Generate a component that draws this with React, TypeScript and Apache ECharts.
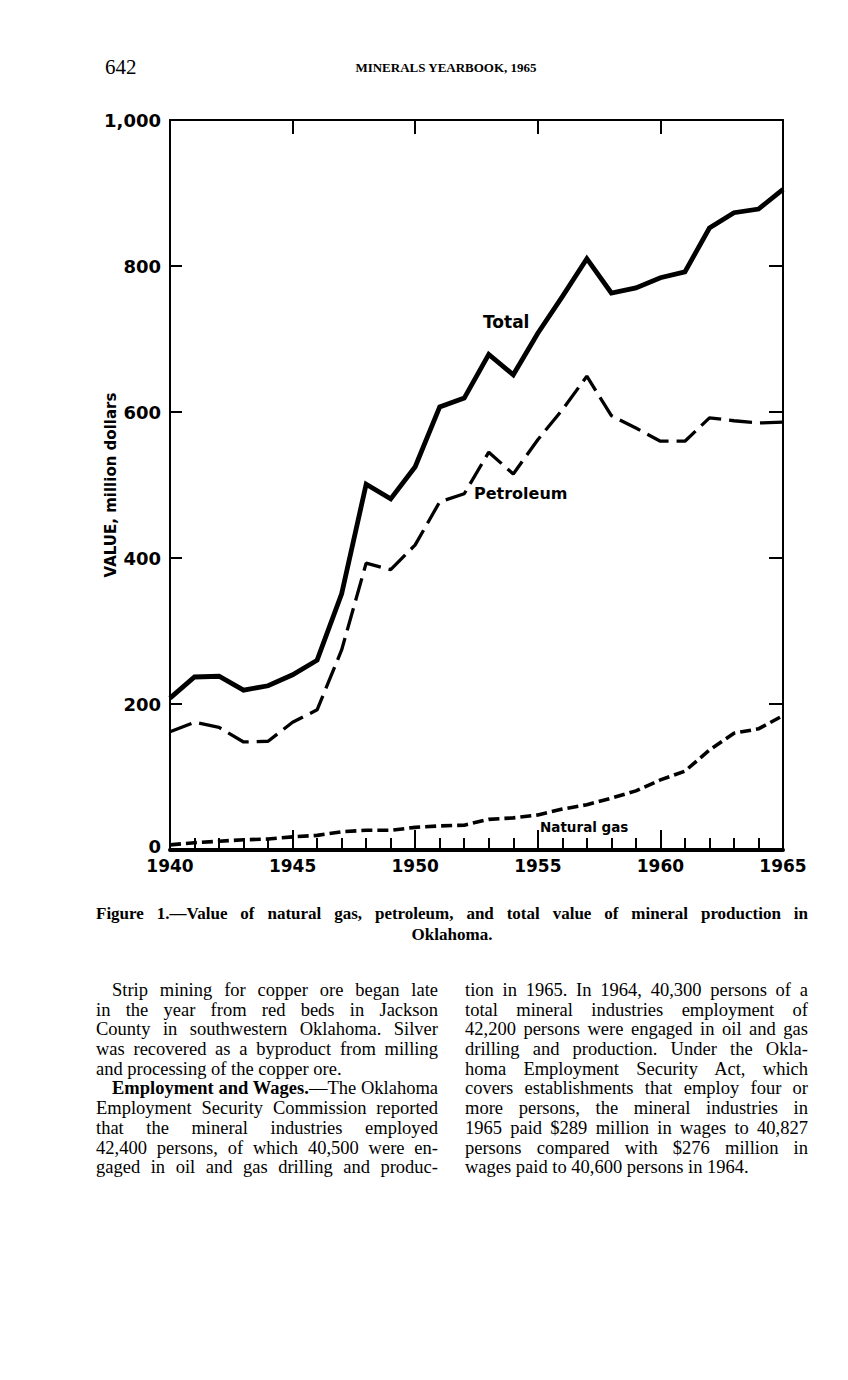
import React, { useEffect, useRef } from "react";
import * as echarts from "echarts";

const years = [1940, 1941, 1942, 1943, 1944, 1945, 1946, 1947, 1948, 1949, 1950, 1951, 1952, 1953, 1954, 1955, 1956, 1957, 1958, 1959, 1960, 1961, 1962, 1963, 1964, 1965];
const totalValues = [208, 237, 238, 219, 225, 240, 260, 351, 501, 481, 525, 607, 619, 679, 651, 708, 758, 810, 763, 770, 784, 792, 852, 873, 878, 905];
const petroleumValues = [162, 175, 168, 148, 149, 175, 192, 274, 393, 384, 418, 477, 488, 545, 515, 562, 603, 649, 595, 578, 560, 560, 592, 588, 585, 586];
const naturalGasValues = [7, 10, 12, 14, 15, 18, 20, 25, 27, 27, 31, 33, 34, 42, 44, 48, 56, 62, 71, 81, 96, 108, 137, 160, 166, 184];
const yTickValues = [0, 200, 400, 600, 800, 1000];
const yTickLabels = ["0", "200", "400", "600", "800", "1,000"];
const xTickValues = [1940, 1945, 1950, 1955, 1960, 1965];
const xTickLabels = ["1940", "1945", "1950", "1955", "1960", "1965"];

const SANS = "'DejaVu Sans', Lato, sans-serif";
const SERIF = "'Liberation Serif', 'DejaVu Serif', serif";

const leftLines: { text: string; bold?: string; last?: boolean; indent?: boolean }[] = [
  { text: "Strip mining for copper ore began late", indent: true },
  { text: "in the year from red beds in Jackson" },
  { text: "County in southwestern Oklahoma. Silver" },
  { text: "was recovered as a byproduct from milling" },
  { text: "and processing of the copper ore.", last: true },
  { bold: "Employment and Wages.", text: "—The Oklahoma", indent: true },
  { text: "Employment Security Commission reported" },
  { text: "that the mineral industries employed" },
  { text: "42,400 persons, of which 40,500 were en-" },
  { text: "gaged in oil and gas drilling and produc-" },
];
const rightLines: { text: string; last?: boolean }[] = [
  { text: "tion in 1965. In 1964, 40,300 persons of a" },
  { text: "total mineral industries employment of" },
  { text: "42,200 persons were engaged in oil and gas" },
  { text: "drilling and production. Under the Okla-" },
  { text: "homa Employment Security Act, which" },
  { text: "covers establishments that employ four or" },
  { text: "more persons, the mineral industries in" },
  { text: "1965 paid $289 million in wages to 40,827" },
  { text: "persons compared with $276 million in" },
  { text: "wages paid to 40,600 persons in 1964.", last: true },
];

function Chart() {
  const ref = useRef<HTMLDivElement>(null);
  useEffect(() => {
    if (!ref.current) return;
    const chart = echarts.init(ref.current, null, { renderer: "svg" });
    const pair = (vals: number[]) => years.map((y, i) => [y, vals[i]]);
    const xLab = (v: number) => {
      const i = xTickValues.indexOf(v);
      return i >= 0 ? xTickLabels[i] : "";
    };
    const yLab = (v: number) => {
      const i = yTickValues.indexOf(v);
      if (i < 0) return "";
      return v === 0 ? `{z|${yTickLabels[i]}}` : yTickLabels[i];
    };
    const labelFont = { color: "#000", fontFamily: SANS, fontWeight: "bold" as const, fontSize: 18 };
    chart.setOption({
      animation: false,
      backgroundColor: "#fff",
      grid: { left: 170, top: 120, width: 613, height: 730, show: false },
      xAxis: [
        {
          type: "value",
          min: 1940,
          max: 1965,
          interval: 5,
          position: "bottom",
          axisLine: { show: true, onZero: false, lineStyle: { color: "#000", width: 4 } },
          axisTick: { show: true, inside: true, length: 20, lineStyle: { color: "#000", width: 2 } },
          minorTick: { show: true, splitNumber: 5, length: 12, lineStyle: { color: "#000", width: 2 } },
          axisLabel: { formatter: xLab, ...labelFont, fontSize: 17, margin: 7 },
          splitLine: { show: false },
          minorSplitLine: { show: false },
        },
        {
          type: "value",
          min: 1940,
          max: 1965,
          interval: 5,
          position: "top",
          axisLine: { show: true, onZero: false, lineStyle: { color: "#000", width: 2 } },
          axisTick: { show: true, inside: true, length: 14, lineStyle: { color: "#000", width: 2 } },
          axisLabel: { show: false },
          splitLine: { show: false },
        },
      ],
      yAxis: [
        {
          type: "value",
          min: 0,
          max: 1000,
          interval: 200,
          position: "left",
          axisLine: { show: true, onZero: false, lineStyle: { color: "#000", width: 2 } },
          axisTick: { show: true, inside: true, length: 12, lineStyle: { color: "#000", width: 2 } },
          axisLabel: {
            formatter: yLab,
            ...labelFont,
            margin: 9,
            rich: { z: { ...labelFont, padding: [0, 0, 8, 0] } },
          },
          splitLine: { show: false },
          name: "VALUE, million dollars",
          nameLocation: "middle",
          nameGap: 52,
          nameMoveOverlap: false,
          nameRotate: 90,
          nameTextStyle: { color: "#000", fontFamily: SANS, fontWeight: "bold", fontSize: 15 },
        },
        {
          type: "value",
          min: 0,
          max: 1000,
          interval: 200,
          position: "right",
          axisLine: { show: true, onZero: false, lineStyle: { color: "#000", width: 2 } },
          axisTick: { show: true, inside: true, length: 14, lineStyle: { color: "#000", width: 2 } },
          axisLabel: { show: false },
          splitLine: { show: false },
        },
      ],
      series: [
        {
          name: "Total",
          type: "line",
          data: pair(totalValues),
          symbol: "none",
          lineStyle: { color: "#000", width: 4.8, type: "solid", join: "miter" },
          z: 3,
        },
        {
          name: "Petroleum",
          type: "line",
          data: pair(petroleumValues),
          symbol: "none",
          lineStyle: { color: "#000", width: 3.3, type: [23, 8] },
          z: 3,
        },
        {
          name: "Natural gas",
          type: "line",
          data: pair(naturalGasValues),
          symbol: "none",
          lineStyle: { color: "#000", width: 3.6, type: [11, 5] },
          z: 3,
        },
      ],
      graphic: [
        { type: "text", left: 483, top: 313, style: { text: "Total", fill: "#000", font: `bold 17px ${SANS}` } },
        { type: "text", left: 474, top: 485, style: { text: "Petroleum", fill: "#000", font: `bold 16px ${SANS}` } },
        { type: "text", left: 540, top: 820, style: { text: "Natural gas", fill: "#000", font: `bold 13.5px ${SANS}` } },
      ],
    });
    return () => chart.dispose();
  }, []);
  return <div ref={ref} style={{ position: "absolute", left: 0, top: 0, width: 848, height: 890 }} />;
}

export default function App() {
  const lineStyle = (last?: boolean): React.CSSProperties => ({
    height: 19.7,
    whiteSpace: "nowrap",
    textAlign: "justify",
    textAlignLast: last ? "left" : "justify",
  });
  return (
    <div style={{ position: "absolute", left: 0, top: 0, width: 848, height: 1380, background: "#fff", color: "#000", fontFamily: SERIF, overflow: "hidden" }}>
      <Chart />
      <div style={{ position: "absolute", left: 105, top: 55, fontSize: 21, lineHeight: "24px" }}>642</div>
      <div style={{ position: "absolute", left: 0, width: 892, top: 59, textAlign: "center", fontSize: 13, fontWeight: "bold", lineHeight: "18px" }}>
        MINERALS YEARBOOK, 1965
      </div>
      <div style={{ position: "absolute", left: 96, width: 712, top: 903, fontSize: 17, fontWeight: "bold", lineHeight: "21px" }}>
        <div style={{ textAlign: "justify", textAlignLast: "justify", whiteSpace: "nowrap" }}>
          Figure 1.—Value of natural gas, petroleum, and total value of mineral production in
        </div>
        <div style={{ textAlign: "center" }}>Oklahoma.</div>
      </div>
      <div style={{ position: "absolute", left: 96, width: 342, top: 981, fontSize: 18.5, lineHeight: "19.7px" }}>
        {leftLines.map((l, i) => (
          <div key={i} style={{ ...lineStyle(l.last), paddingLeft: l.indent ? 16 : 0 }}>
            {l.bold ? <b>{l.bold}</b> : null}
            {l.text}
          </div>
        ))}
      </div>
      <div style={{ position: "absolute", left: 465, width: 343, top: 981, fontSize: 18.5, lineHeight: "19.7px" }}>
        {rightLines.map((l, i) => (
          <div key={i} style={lineStyle(l.last)}>
            {l.text}
          </div>
        ))}
      </div>
    </div>
  );
}
